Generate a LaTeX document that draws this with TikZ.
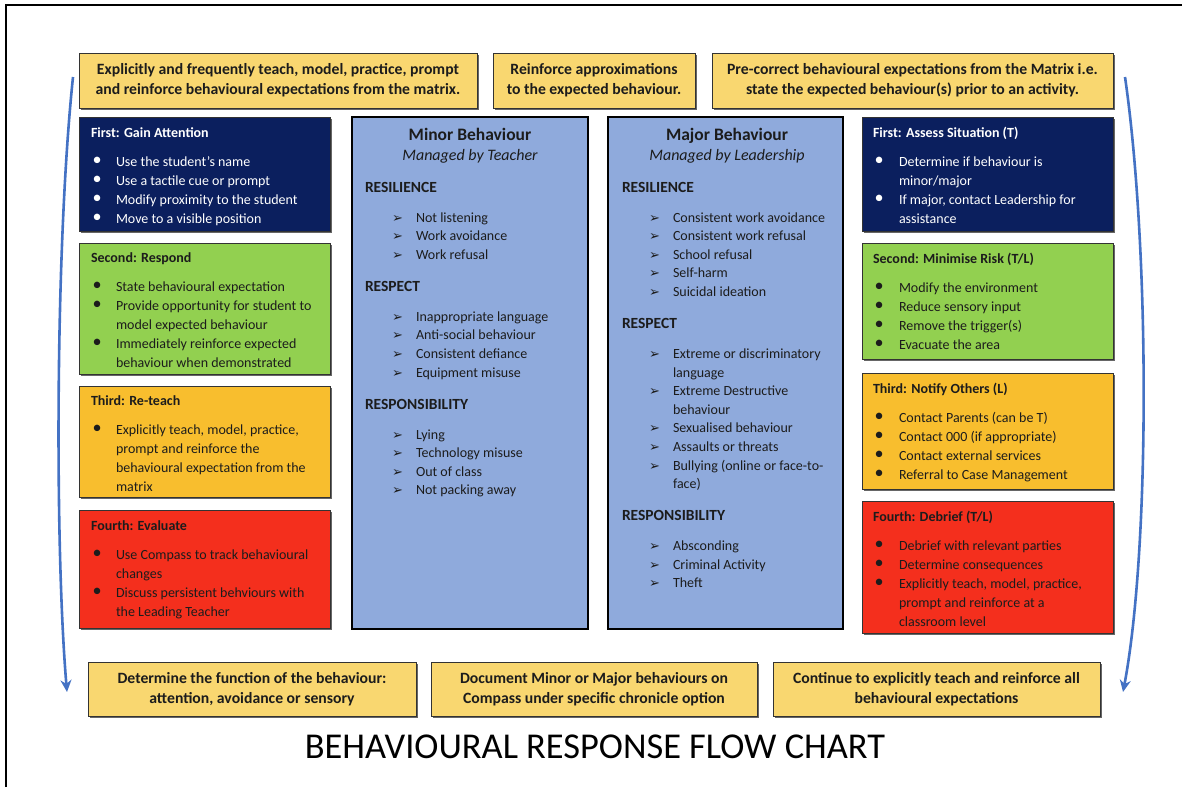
\documentclass[tikz,border=0pt]{standalone}
\usepackage{fontspec}
\setmainfont{Carlito}
\newfontfamily\symfont{DejaVu Sans}
\usetikzlibrary{shadows,arrows.meta}

\definecolor{goldbox}{HTML}{F9D770}
\definecolor{navybox}{HTML}{0B1F5E}
\definecolor{greenbox}{HTML}{92D050}
\definecolor{amberbox}{HTML}{F8BE2E}
\definecolor{redbox}{HTML}{F42F1D}
\definecolor{bluebox}{HTML}{8FAADC}
\definecolor{flowblue}{HTML}{4472C4}
\definecolor{ink}{HTML}{1C1C1C}

% list entries with a hanging indent
\newcommand{\bigdot}{\raisebox{0.5pt}{\scalebox{1.3}{\textbullet}}}
\newcommand{\dotitem}[1]{\par\hangindent=25pt\hangafter=1\noindent\makebox[25pt][l]{\hspace{1.5pt}\bigdot}#1}
\newcommand{\rdotitem}[1]{\par\hangindent=26pt\hangafter=1\noindent\makebox[26pt][l]{\hspace{1.5pt}\bigdot}#1}
\newcommand{\arritem}[1]{\par\hangindent=51pt\hangafter=1\noindent\makebox[51pt][l]{\hspace{27pt}{\symfont\fontsize{13}{13}\selectfont ➢}}#1}
\newcommand{\stagetext}[2]{\begin{minipage}[t]{236pt}\raggedright\fontsize{14}{19}\selectfont\textbf{#1}\par\vspace{10pt}#2\end{minipage}}
\newcommand{\cathead}[1]{\par\vspace{13.4pt}{\fontsize{15.5}{18.6}\selectfont\textbf{#1}}\par\vspace{11.4pt}}
\newcommand{\catlist}[1]{\begin{minipage}[t]{215pt}\raggedright\fontsize{14}{18.6}\selectfont#1\end{minipage}}

\tikzset{
  x=1pt, y=-1pt,
  every node/.style={inner sep=0pt, outer sep=0pt},
  panel/.style={rectangle, anchor=north west, draw=black!80, line width=0.9pt,
    drop shadow={shadow xshift=1.6pt, shadow yshift=-1.6pt, fill=black, opacity=0.6}},
  notebox/.style={panel, fill=goldbox, text=ink, align=center,
    font=\bfseries\fontsize{15.7}{20}\selectfont},
  footbox/.style={panel, fill=goldbox, text=ink, align=center,
    font=\bfseries\fontsize{15.7}{19.5}\selectfont},
  catpanel/.style={rectangle, anchor=north west, draw=black, line width=2.6pt, fill=bluebox,
    drop shadow={shadow xshift=1pt, shadow yshift=-1pt, fill=black, opacity=0.3}},
  stagetxt/.style={anchor=base west, text=ink},
  flowarrow/.style={draw=flowblue, line width=2.6pt, -{Stealth[length=12pt,width=11pt]}},
}

\begin{document}
\begin{tikzpicture}
\useasboundingbox (0,0) rectangle (1182,787);
\fill[white] (0,0) rectangle (1182,787);
\draw[line width=1.2pt, black] (6,787) -- (6,5) -- (1182,5);

% top row of prompts
\node[notebox, minimum width=398pt, minimum height=55pt] (top1) at (79,53)
  {Explicitly and frequently teach, model, practice, prompt\\and reinforce behavioural expectations from the matrix.};
\node[notebox, minimum width=202pt, minimum height=55pt] (top2) at (493,53)
  {Reinforce approximations\\to the expected behaviour.};
\node[notebox, minimum width=401pt, minimum height=55pt] (top3) at (712,53)
  {Pre-correct behavioural expectations from the Matrix i.e.\\state the expected behaviour(s) prior to an activity.};

% teacher response steps
\node[panel, fill=navybox, minimum width=251pt, minimum height=114pt] (l1) at (79,117) {};
\node[panel, fill=greenbox, minimum width=251pt, minimum height=131pt] (l2) at (79,243) {};
\node[panel, fill=amberbox, minimum width=251pt, minimum height=111pt] (l3) at (79,386) {};
\node[panel, fill=redbox, minimum width=251pt, minimum height=118pt] (l4) at (79,510) {};

\node[stagetxt, text=white] (l1t) at (91,137) {\stagetext{First: Gain Attention}{%
  \dotitem{Use the student’s name}\dotitem{Use a tactile cue or prompt}%
  \dotitem{Modify proximity to the student}\dotitem{Move to a visible position}}};
\node[stagetxt] (l2t) at (91,262) {\stagetext{Second: Respond}{%
  \dotitem{State behavioural expectation}%
  \dotitem{Provide opportunity for student to\newline model expected behaviour}%
  \dotitem{Immediately reinforce expected\newline behaviour when demonstrated}}};
\node[stagetxt] (l3t) at (91,405) {\stagetext{Third: Re-teach}{%
  \dotitem{Explicitly teach, model, practice,\newline prompt and reinforce the\newline behavioural expectation from the\newline matrix}}};
\node[stagetxt] (l4t) at (91,530) {\stagetext{Fourth: Evaluate}{%
  \dotitem{Use Compass to track behavioural\newline changes}%
  \dotitem{Discuss persistent behviours with\newline the Leading Teacher}}};

% behaviour categories
\node[catpanel, minimum width=236pt, minimum height=512pt] (minor) at (352,117) {};
\node[catpanel, minimum width=235pt, minimum height=512pt] (major) at (608,117) {};

\node[anchor=base, text=ink, font=\bfseries\fontsize{17.5}{17.5}\selectfont] (minorttl) at (470,140) {Minor Behaviour};
\node[anchor=base, text=ink, font=\itshape\fontsize{16}{16}\selectfont] (minorsub) at (470,160) {Managed by Teacher};
\node[anchor=base, text=ink, font=\bfseries\fontsize{17.5}{17.5}\selectfont] (majorttl) at (727,140) {Major Behaviour};
\node[anchor=base, text=ink, font=\itshape\fontsize{16}{16}\selectfont] (majorsub) at (727,160) {Managed by Leadership};

\node[stagetxt] (minorlist) at (365,192) {\catlist{%
  {\fontsize{15.5}{18.6}\selectfont\textbf{RESILIENCE}}\par\vspace{11.4pt}%
  \arritem{Not listening}\arritem{Work avoidance}\arritem{Work refusal}%
  \cathead{RESPECT}%
  \arritem{Inappropriate language}\arritem{Anti-social behaviour}%
  \arritem{Consistent defiance}\arritem{Equipment misuse}%
  \cathead{RESPONSIBILITY}%
  \arritem{Lying}\arritem{Technology misuse}\arritem{Out of class}\arritem{Not packing away}}};

\node[stagetxt] (majorlist) at (622,192) {\catlist{%
  {\fontsize{15.5}{18.6}\selectfont\textbf{RESILIENCE}}\par\vspace{11.4pt}%
  \arritem{Consistent work avoidance}\arritem{Consistent work refusal}%
  \arritem{School refusal}\arritem{Self-harm}\arritem{Suicidal ideation}%
  \cathead{RESPECT}%
  \arritem{Extreme or discriminatory\newline language}%
  \arritem{Extreme Destructive\newline behaviour}%
  \arritem{Sexualised behaviour}\arritem{Assaults or threats}%
  \arritem{Bullying (online or face-to-\newline face)}%
  \cathead{RESPONSIBILITY}%
  \arritem{Absconding}\arritem{Criminal Activity}\arritem{Theft}}};

% leadership response steps
\node[panel, fill=navybox, minimum width=251pt, minimum height=114pt] (r1) at (862,117) {};
\node[panel, fill=greenbox, minimum width=251pt, minimum height=116pt] (r2) at (862,243) {};
\node[panel, fill=amberbox, minimum width=251pt, minimum height=116pt] (r3) at (862,373) {};
\node[panel, fill=redbox, minimum width=251pt, minimum height=132pt] (r4) at (862,501) {};

\node[stagetxt, text=white] (r1t) at (873,137) {\stagetext{First: Assess Situation (T)}{%
  \rdotitem{Determine if behaviour is\newline minor/major}%
  \rdotitem{If major, contact Leadership for\newline assistance}}};
\node[stagetxt] (r2t) at (873,263) {\stagetext{Second: Minimise Risk (T/L)}{%
  \rdotitem{Modify the environment}\rdotitem{Reduce sensory input}%
  \rdotitem{Remove the trigger(s)}\rdotitem{Evacuate the area}}};
\node[stagetxt] (r3t) at (873,393) {\stagetext{Third: Notify Others (L)}{%
  \rdotitem{Contact Parents (can be T)}\rdotitem{Contact 000 (if appropriate)}%
  \rdotitem{Contact external services}\rdotitem{Referral to Case Management}}};
\node[stagetxt] (r4t) at (873,521) {\stagetext{Fourth: Debrief (T/L)}{%
  \rdotitem{Debrief with relevant parties}\rdotitem{Determine consequences}%
  \rdotitem{Explicitly teach, model, practice,\newline prompt and reinforce at a\newline classroom level}}};

% bottom row of follow-up actions
\node[footbox, minimum width=328pt, minimum height=54pt] (bot1) at (88,662)
  {Determine the function of the behaviour:\\attention, avoidance or sensory};
\node[footbox, minimum width=326pt, minimum height=54pt] (bot2) at (431,662)
  {Document Minor or Major behaviours on\\Compass under specific chronicle option};
\node[footbox, minimum width=327pt, minimum height=54pt] (bot3) at (773,662)
  {Continue to explicitly teach and reinforce all\\behavioural expectations};

% continuous cycle arrows
\coordinate (lstart) at (73,77);
\coordinate (lend) at (67,692);
\coordinate (rstart) at (1125,77);
\coordinate (rend) at (1123,692);
\draw[flowarrow] (lstart) .. controls (55,250) and (55,550) .. (lend);
\draw[flowarrow] (rstart) .. controls (1150,250) and (1150,550) .. (rend);

\node[anchor=base, text=black, font=\fontsize{36.4}{36.4}\selectfont] (title) at (595,758)
  {BEHAVIOURAL RESPONSE FLOW CHART};
\end{tikzpicture}
\end{document}
